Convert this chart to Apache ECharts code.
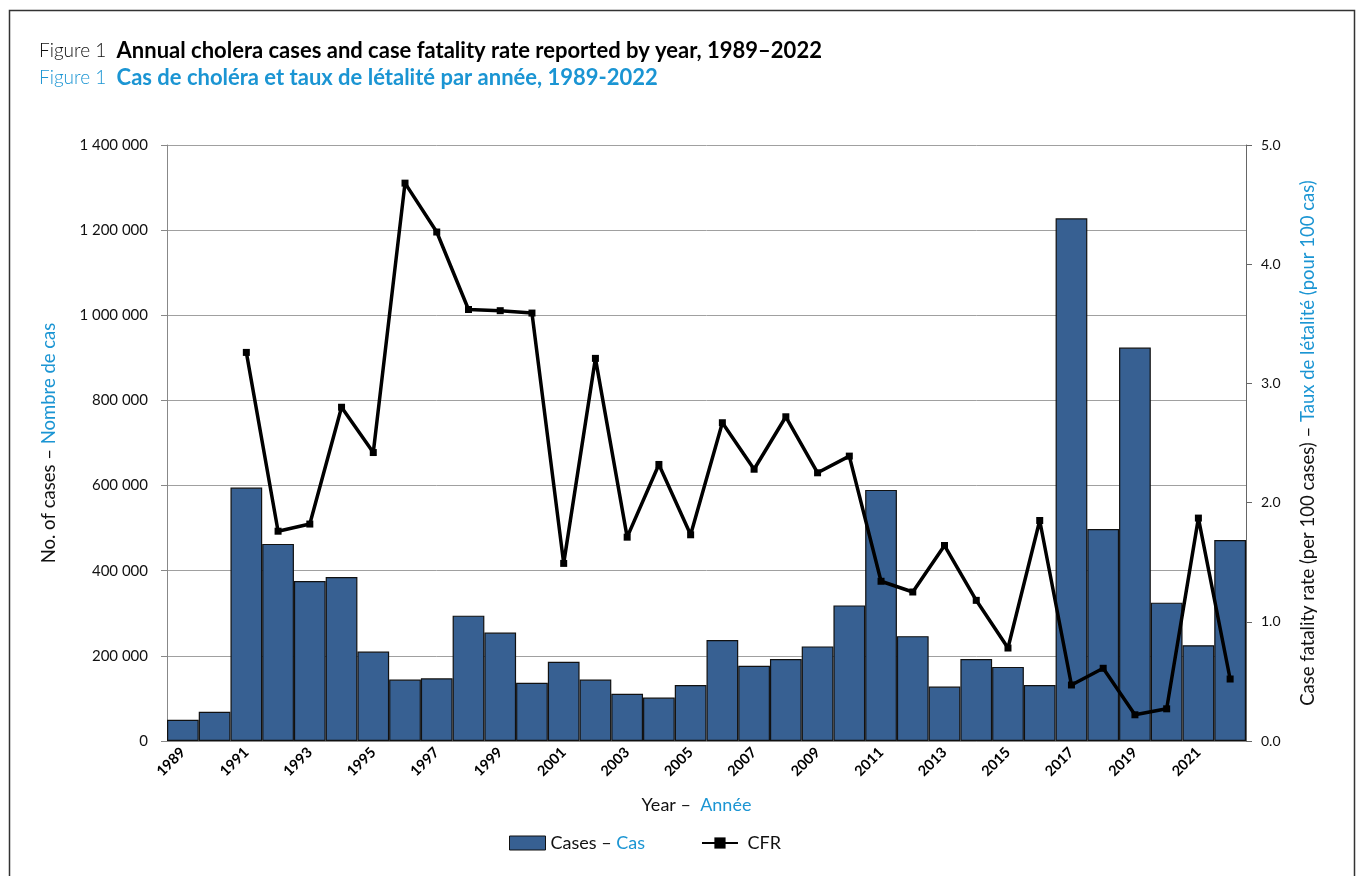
<!DOCTYPE html>
<html>
<head>
<meta charset="utf-8">
<title>Annual cholera cases and case fatality rate, 1989–2022</title>
<script src="https://cdn.jsdelivr.net/npm/echarts@6/dist/echarts.min.js"></script>
<style>
  html, body { margin: 0; padding: 0; background: #fff; }
  #chart { width: 1357px; height: 876px; }
</style>
</head>
<body>
<div id="chart"></div>
<script>
// data
const years = ['1989', '1990', '1991', '1992', '1993', '1994', '1995', '1996', '1997', '1998',
  '1999', '2000', '2001', '2002', '2003', '2004', '2005', '2006', '2007', '2008',
  '2009', '2010', '2011', '2012', '2013', '2014', '2015', '2016', '2017', '2018',
  '2019', '2020', '2021', '2022'];

const cases = [50000, 68500, 595400, 463000, 376000, 385000, 210000, 144400, 147200, 294400,
  254600, 137000, 186100, 144400, 111100, 101900, 131500, 237000, 176900, 192600,
  222200, 318500, 589800, 246300, 127800, 192600, 174100, 131500, 1227800, 498100,
  924100, 325000, 225000, 472200];

// no CFR plotted for 1989 and 1990
const cfr = [null, null, 3.26, 1.76, 1.82, 2.80, 2.42, 4.68, 4.27, 3.62,
  3.61, 3.59, 1.49, 3.21, 1.71, 2.32, 1.73, 2.67, 2.28, 2.72,
  2.25, 2.39, 1.34, 1.25, 1.64, 1.18, 0.78, 1.85, 0.47, 0.61,
  0.22, 0.27, 1.87, 0.52];

const BLUE_TXT = '#1b95d3';
const BAR = '#376092';
const FONT = 'Lato, "Open Sans", sans-serif';

const chart = echarts.init(document.getElementById('chart'));

function spaced(v) {
  return String(v).replace(/\B(?=(\d{3})+(?!\d))/g, ' ');
}

chart.setOption({
  textStyle: { fontFamily: FONT },
  animation: false,
  graphic: [{
    type: 'rect',
    shape: { x: 9.5, y: 10.5, width: 1345, height: 900 },
    style: { fill: 'none', stroke: '#333', lineWidth: 1.5 },
    silent: true
  }],
  title: {
    left: 34,
    top: 35,
    itemGap: 5,
    text: '{a|Figure 1  }{b|Annual cholera cases and case fatality rate reported by year, 1989–2022}',
    subtext: '{a|Figure 1  }{b|Cas de choléra et taux de létalité par année, 1989-2022}',
    textStyle: {
      rich: {
        a: { fontFamily: FONT, fontSize: 19, fontWeight: 300, color: '#111' },
        b: { fontFamily: FONT, fontSize: 22, fontWeight: 'bold', color: '#000' }
      }
    },
    subtextStyle: {
      rich: {
        a: { fontFamily: FONT, fontSize: 19, fontWeight: 300, color: BLUE_TXT },
        b: { fontFamily: FONT, fontSize: 22, fontWeight: 'bold', color: BLUE_TXT }
      }
    }
  },
  legend: {
    top: 829,
    left: 504,
    itemGap: 56,
    itemWidth: 36,
    itemHeight: 14,
    data: [
      { name: 'Cases', icon: 'rect', itemStyle: { color: BAR, borderColor: '#111', borderWidth: 1 } },
      { name: 'CFR' }
    ],
    formatter: function (name) {
      return name === 'Cases' ? '{a|Cases – }{b|Cas}' : '{a| CFR}';
    },
    textStyle: {
      rich: {
        a: { fontFamily: FONT, fontSize: 18, color: '#111' },
        b: { fontFamily: FONT, fontSize: 18, color: BLUE_TXT }
      }
    }
  },
  grid: { left: 167, right: 111, top: 145, bottom: 135 },
  xAxis: {
    type: 'category',
    data: years,
    name: '{a|Year –  }{b|Année}',
    nameLocation: 'middle',
    nameGap: 55,
    nameTextStyle: {
      padding: [0, 20, 0, 0],
      rich: {
        a: { fontFamily: FONT, fontSize: 18, color: '#111' },
        b: { fontFamily: FONT, fontSize: 18, color: BLUE_TXT }
      }
    },
    axisLine: { lineStyle: { color: '#888', width: 1 } },
    axisTick: { interval: 0, length: 5, lineStyle: { color: '#888' } },
    axisLabel: {
      interval: 1,
      rotate: 45,
      margin: 9,
      fontSize: 14.5,
      fontWeight: 'bold',
      color: '#000'
    }
  },
  yAxis: [{
    type: 'value',
    min: 0,
    max: 1400000,
    interval: 200000,
    name: '{a|No. of cases – }{b|Nombre de cas}',
    nameLocation: 'middle',
    nameRotate: 90,
    nameGap: 108,
    nameTextStyle: {
      rich: {
        a: { fontFamily: FONT, fontSize: 18.5, color: '#111' },
        b: { fontFamily: FONT, fontSize: 18.5, color: BLUE_TXT }
      }
    },
    axisLine: { show: true, lineStyle: { color: '#888' } },
    axisTick: { show: true, length: 6, lineStyle: { color: '#888' } },
    axisLabel: { margin: 19, fontSize: 15, color: '#111', formatter: spaced },
    splitLine: { lineStyle: { color: '#a0a0a0', width: 1 } }
  }, {
    type: 'value',
    min: 0,
    max: 5,
    interval: 1,
    position: 'right',
    name: '{a|Case fatality rate (per 100 cases) – }{b|Taux de létalité (pour 100 cas)}',
    nameLocation: 'middle',
    nameRotate: 90,
    nameGap: 53,
    nameTextStyle: {
      rich: {
        a: { fontFamily: FONT, fontSize: 18.5, color: '#111' },
        b: { fontFamily: FONT, fontSize: 18.5, color: BLUE_TXT }
      }
    },
    axisLine: { show: true, lineStyle: { color: '#666' } },
    axisTick: { show: true, length: 6, lineStyle: { color: '#666' } },
    axisLabel: {
      margin: 15, fontSize: 14, color: '#111',
      formatter: function (v) { return v.toFixed(1); }
    },
    splitLine: { show: false }
  }],
  series: [{
    name: 'Cases',
    type: 'bar',
    data: cases,
    barCategoryGap: 0,
    itemStyle: { color: BAR, borderColor: '#111', borderWidth: 1.2 }
  }, {
    name: 'CFR',
    type: 'line',
    yAxisIndex: 1,
    data: cfr,
    connectNulls: false,
    symbol: 'rect',
    symbolSize: 7,
    itemStyle: { color: '#000' },
    lineStyle: { color: '#000', width: 3.5 }
  }]
});
</script>
</body>
</html>
